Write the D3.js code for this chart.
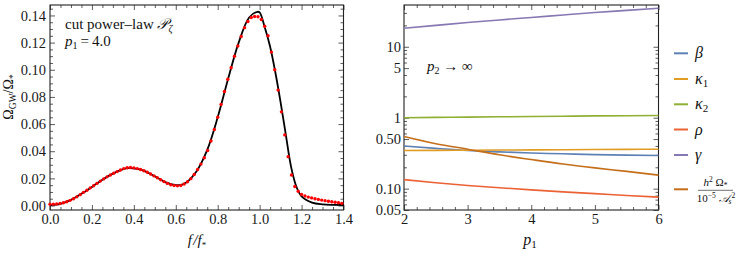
<!DOCTYPE html>
<html>
<head>
<meta charset="utf-8">
<script src="https://cdn.jsdelivr.net/npm/d3@7"></script>
<style>
  body { margin: 0; background: #fff; }
  svg { display: block; font-family: "Liberation Serif", "DejaVu Serif", serif; }
</style>
</head>
<body>
<div id="chart"></div>
<script>
// ---- left panel: black curve (f/f*, Omega_GW/Omega_*) ----
var curveF = [0.00, 0.05, 0.10, 0.15, 0.20, 0.25, 0.30, 0.35, 0.375, 0.40, 0.45, 0.50, 0.55, 0.60, 0.625, 0.65,
    0.70, 0.75, 0.80, 0.85, 0.90, 0.95, 0.99, 1.00, 1.025, 1.05, 1.075, 1.10, 1.125, 1.15, 1.175, 1.20,
    1.25, 1.30, 1.35, 1.40];
var curveV = [0.0003, 0.0013, 0.0042, 0.0087, 0.0137, 0.0190, 0.0235, 0.0268, 0.0275, 0.0273, 0.0255, 0.0215, 0.0172, 0.0150, 0.0152, 0.0170,
    0.0255, 0.0410, 0.0650, 0.0935, 0.1200, 0.1385, 0.1427, 0.1422, 0.1310, 0.1170, 0.0980, 0.0760, 0.0520, 0.0285, 0.0140, 0.0068,
    0.0022, 0.0009, 0.0005, 0.0004];

// red numerical points
var pointF = [0.000, 0.016, 0.032, 0.048, 0.064, 0.080, 0.096, 0.112, 0.128, 0.144, 0.160, 0.176, 0.192, 0.208, 0.224,
    0.240, 0.256, 0.272, 0.288, 0.304, 0.320, 0.336, 0.352, 0.368, 0.384, 0.400, 0.416, 0.432, 0.448, 0.464,
    0.480, 0.496, 0.512, 0.528, 0.544, 0.560, 0.576, 0.592, 0.608, 0.624, 0.640, 0.656, 0.672, 0.688, 0.704,
    0.720, 0.736, 0.752, 0.768, 0.784, 0.800, 0.816, 0.832, 0.848, 0.864, 0.880, 0.896, 0.912, 0.928, 0.944,
    0.960, 0.976, 0.992, 1.008, 1.024, 1.040, 1.056, 1.072, 1.088, 1.104, 1.120, 1.136, 1.152, 1.168, 1.184,
    1.200, 1.216, 1.232, 1.248, 1.264, 1.280, 1.296, 1.312, 1.328, 1.344, 1.360, 1.376, 1.392];
var pointV = [0.0010, 0.0010, 0.0012, 0.0015, 0.0020, 0.0028, 0.0038, 0.0050, 0.0064, 0.0080, 0.0097, 0.0113, 0.0130, 0.0146, 0.0163,
    0.0180, 0.0196, 0.0211, 0.0225, 0.0238, 0.0250, 0.0262, 0.0272, 0.0278, 0.0280, 0.0277, 0.0272, 0.0265, 0.0256, 0.0245,
    0.0232, 0.0218, 0.0204, 0.0190, 0.0176, 0.0163, 0.0153, 0.0147, 0.0145, 0.0148, 0.0158, 0.0175, 0.0198, 0.0228, 0.0265,
    0.0305, 0.0352, 0.0405, 0.0475, 0.0560, 0.0650, 0.0745, 0.0840, 0.0930, 0.1015, 0.1100, 0.1175, 0.1245, 0.1310, 0.1355,
    0.1385, 0.1392, 0.1390, 0.1370, 0.1320, 0.1250, 0.1130, 0.1000, 0.0850, 0.0690, 0.0520, 0.0360, 0.0225, 0.0140, 0.0105,
    0.0082, 0.0070, 0.0062, 0.0056, 0.0050, 0.0045, 0.0040, 0.0036, 0.0032, 0.0028, 0.0024, 0.0020, 0.0016];

var leftXTicks = [0.0, 0.2, 0.4, 0.6, 0.8, 1.0, 1.2, 1.4];
var leftYTicks = [0.00, 0.02, 0.04, 0.06, 0.08, 0.10, 0.12, 0.14];

// ---- right panel: parameters vs p1 (log scale) ----
var p1 = [2, 2.5, 3, 3.5, 4, 4.5, 5, 5.5, 6];
var betaVals = [0.400, 0.370, 0.345, 0.330, 0.318, 0.310, 0.302, 0.297, 0.293];
var kappa1Vals = [0.345, 0.346, 0.348, 0.350, 0.352, 0.354, 0.356, 0.358, 0.360];
var kappa2Vals = [1.000, 1.010, 1.020, 1.030, 1.040, 1.050, 1.060, 1.068, 1.075];
var rhoVals = [0.134, 0.121, 0.111, 0.103, 0.096, 0.090, 0.085, 0.080, 0.076];
var gammaVals = [18.2, 20.0, 22.0, 23.9, 25.9, 28.1, 30.4, 32.6, 34.9];
var omegaVals = [0.544, 0.430, 0.360, 0.300, 0.257, 0.222, 0.196, 0.175, 0.155];

var rightXTicks = [2, 3, 4, 5, 6];
var rightYTicks = [0.05, 0.1, 0.5, 1, 5, 10];
var rightYLabels = ["0.05", "0.10", "0.50", "1", "5", "10"];

var seriesNames = ["β", "κ1", "κ2", "ρ", "γ", "omega"];
var seriesColors = ["#5E81B5", "#E19C24", "#8FB032", "#EB6235", "#8778B3", "#C56E1A"];
var seriesVals = [betaVals, kappa1Vals, kappa2Vals, rhoVals, gammaVals, omegaVals];

var serif = "Liberation Serif";

var svg = d3.select("#chart")
    .append("svg")
    .attr("width", 747)
    .attr("height", 256);

// draws inward ticks on all four sides of a frame
function drawFrame(g, x, y, majorX, minorX, majorY, minorY, fmtX, fmtY, padX, padY) {
    var x0 = x.range()[0], x1 = x.range()[1], y0 = y.range()[0], y1 = y.range()[1];

    g.append("g").attr("transform", "translate(0," + y0 + ")")
        .call(d3.axisBottom(x).tickValues(minorX).tickSize(-3).tickFormat(""));
    g.append("g").attr("transform", "translate(0," + y0 + ")")
        .call(d3.axisBottom(x).tickValues(majorX).tickSize(-5).tickPadding(padX).tickFormat(fmtX));
    g.append("g").attr("transform", "translate(0," + y1 + ")")
        .call(d3.axisTop(x).tickValues(minorX).tickSize(-3).tickFormat(""));
    g.append("g").attr("transform", "translate(0," + y1 + ")")
        .call(d3.axisTop(x).tickValues(majorX).tickSize(-5).tickFormat(""));

    g.append("g").attr("transform", "translate(" + x0 + ",0)")
        .call(d3.axisLeft(y).tickValues(minorY).tickSize(-3).tickFormat(""));
    g.append("g").attr("transform", "translate(" + x0 + ",0)")
        .call(d3.axisLeft(y).tickValues(majorY).tickSize(-5).tickPadding(padY).tickFormat(fmtY));
    g.append("g").attr("transform", "translate(" + x1 + ",0)")
        .call(d3.axisRight(y).tickValues(minorY).tickSize(-3).tickFormat(""));
    g.append("g").attr("transform", "translate(" + x1 + ",0)")
        .call(d3.axisRight(y).tickValues(majorY).tickSize(-5).tickFormat(""));

    g.selectAll(".domain").remove();
    g.selectAll("g").attr("font-family", serif).attr("font-size", 14.5);
    g.selectAll(".tick line").attr("stroke", "#333").attr("stroke-width", 0.8);
    g.selectAll(".tick text")
        .attr("font-family", serif)
        .attr("fill", "#1a1a1a");

    g.append("rect")
        .attr("x", x0).attr("y", y1)
        .attr("width", x1 - x0).attr("height", y0 - y1)
        .attr("fill", "none")
        .attr("stroke", "#222")
        .attr("stroke-width", 1.1);
}

// ================= left panel =================
var xL = d3.scaleLinear().domain([0, 1.4]).range([50, 343.5]);
var yL = d3.scaleLinear().domain([-0.0033, 0.1477]).range([210, 5]);
var gL = svg.append("g");

var leftMinorX = d3.range(0, 1.401, 0.05).filter(function (v) { return Math.abs(v / 0.2 - Math.round(v / 0.2)) > 0.01; });
var leftMinorY = d3.range(0, 0.1451, 0.005).filter(function (v) { return Math.abs(v / 0.02 - Math.round(v / 0.02)) > 0.01; });

drawFrame(gL, xL, yL, leftXTicks, leftMinorX, leftYTicks, leftMinorY,
    d3.format(".1f"), d3.format(".2f"), 4, 4);

var curveData = curveF.map(function (f, i) { return { f: f, v: curveV[i] }; });
var pointData = pointF.map(function (f, i) { return { f: f, v: pointV[i] }; });

gL.append("path")
    .datum(curveData)
    .attr("fill", "none")
    .attr("stroke", "#000")
    .attr("stroke-width", 1.8)
    .attr("d", d3.line()
        .x(function (d) { return xL(d.f); })
        .y(function (d) { return yL(d.v); })
        .curve(d3.curveCatmullRom.alpha(0.5)));

gL.selectAll(".pt")
    .data(pointData)
    .enter()
    .append("circle")
    .attr("cx", function (d) { return xL(d.f); })
    .attr("cy", function (d) { return yL(d.v); })
    .attr("r", 1.7)
    .attr("fill", "#f00");

// annotations
var t1 = gL.append("text").attr("x", 65).attr("y", 29).attr("font-size", 15).attr("fill", "#111");
t1.append("tspan").text("cut power\u2013law ");
t1.append("tspan").text("\u{1D4AB}").attr("font-style", "italic");
t1.append("tspan").text("ζ").attr("font-size", 10).attr("dy", 3).attr("font-style", "italic");

var t2 = gL.append("text").attr("x", 65).attr("y", 45.5).attr("font-size", 15).attr("fill", "#111");
t2.append("tspan").text("p").attr("font-style", "italic");
t2.append("tspan").text("1").attr("font-size", 10).attr("dy", 3);
t2.append("tspan").text("\u2009=\u20094.0").attr("dy", -3);

// axis labels
var yLab = gL.append("text")
    .attr("transform", "translate(13,97) rotate(-90)")
    .attr("text-anchor", "middle")
    .attr("font-size", 14)
    .attr("fill", "#111");
yLab.append("tspan").text("Ω");
yLab.append("tspan").text("GW").attr("font-size", 9.5).attr("dy", 3);
yLab.append("tspan").text("/Ω").attr("dy", -3);
yLab.append("tspan").text("*").attr("font-size", 9.5).attr("dy", 3);

var xLab = gL.append("text")
    .attr("x", 197).attr("y", 245)
    .attr("text-anchor", "middle")
    .attr("font-size", 15)
    .attr("font-style", "italic")
    .attr("fill", "#111");
xLab.append("tspan").text("f\u200a/f");
xLab.append("tspan").text("*").attr("font-size", 9).attr("dy", 3).attr("font-style", "normal");

// ================= right panel =================
var xR = d3.scaleLinear().domain([2, 6]).range([404, 658.5]);
var yR = d3.scaleLog().domain([0.05, 38.8]).range([210, 5]);
var gR = svg.append("g");

var rightMinorX = d3.range(2, 6.001, 0.2).filter(function (v) { return Math.abs(v - Math.round(v)) > 0.01; });
var rightMinorY = [];
[0.01, 0.1, 1, 10].forEach(function (dec) {
    for (var m = 1; m <= 9; m++) {
        var v = +(m * dec).toPrecision(3);
        if (v >= 0.05 && v <= 38.8 && rightYTicks.indexOf(v) < 0) rightMinorY.push(v);
    }
});

drawFrame(gR, xR, yR, rightXTicks, rightMinorX, rightYTicks, rightMinorY,
    d3.format("d"), function (d) { return rightYLabels[rightYTicks.indexOf(d)]; }, 4, 3);

var lineR = d3.line()
    .x(function (d) { return xR(d.p); })
    .y(function (d) { return yR(d.v); })
    .curve(d3.curveMonotoneX);

seriesVals.forEach(function (vals, i) {
    gR.append("path")
        .datum(p1.map(function (p, j) { return { p: p, v: vals[j] }; }))
        .attr("fill", "none")
        .attr("stroke", seriesColors[i])
        .attr("stroke-width", 1.6)
        .attr("d", lineR);
});

var t3 = gR.append("text").attr("x", 427).attr("y", 70.5).attr("font-size", 15).attr("fill", "#111");
t3.append("tspan").text("p").attr("font-style", "italic");
t3.append("tspan").text("2").attr("font-size", 10).attr("dy", 3);
t3.append("tspan").text(" \u2192 \u221E").attr("dy", -3);

var pLab = gR.append("text")
    .attr("x", 530).attr("y", 245)
    .attr("text-anchor", "middle")
    .attr("font-size", 16)
    .attr("fill", "#111");
pLab.append("tspan").text("p").attr("font-style", "italic");
pLab.append("tspan").text("1").attr("font-size", 11).attr("dy", 3);

// ---- legend ----
var legendY = [53.3, 79, 104.3, 129.5, 155, 189.3];
var legend = svg.append("g");
seriesNames.forEach(function (name, i) {
    legend.append("line")
        .attr("x1", 674).attr("x2", 688)
        .attr("y1", legendY[i]).attr("y2", legendY[i])
        .attr("stroke", seriesColors[i])
        .attr("stroke-width", 2);
    if (name === "omega") return;
    var t = legend.append("text")
        .attr("x", 695).attr("y", legendY[i] + 5)
        .attr("font-size", 16)
        .attr("font-style", "italic")
        .attr("fill", "#111");
    t.append("tspan").text(name.charAt(0));
    if (name.length > 1) {
        t.append("tspan").text(name.slice(1)).attr("font-size", 11).attr("dy", 3).attr("font-style", "normal");
    }
});

// fraction h^2 Omega_* / (10^-5 A_s^2)
var fy = legendY[5];
legend.append("line")
    .attr("x1", 698).attr("x2", 733)
    .attr("y1", fy + 1).attr("y2", fy + 1)
    .attr("stroke", "#333").attr("stroke-width", 0.7);
var num = legend.append("text")
    .attr("x", 715.5).attr("y", fy - 3)
    .attr("text-anchor", "middle")
    .attr("font-size", 11).attr("fill", "#111");
num.append("tspan").text("h").attr("font-style", "italic");
num.append("tspan").text("2").attr("font-size", 7.5).attr("dy", -4);
num.append("tspan").text(" Ω").attr("dy", 4);
num.append("tspan").text("*").attr("font-size", 7.5).attr("dy", 2);
var den = legend.append("text")
    .attr("x", 716).attr("y", fy + 13)
    .attr("text-anchor", "middle")
    .attr("font-size", 11).attr("fill", "#111");
den.append("tspan").text("10");
den.append("tspan").text("\u22125").attr("font-size", 7.5).attr("dy", -4);
den.append("tspan").text(" \u{1D49C}").attr("dy", 4).attr("font-style", "italic");
den.append("tspan").text("s").attr("font-size", 7.5).attr("dy", 2).attr("font-style", "italic");
den.append("tspan").text("2").attr("font-size", 7.5).attr("dy", -6);
</script>
</body>
</html>
